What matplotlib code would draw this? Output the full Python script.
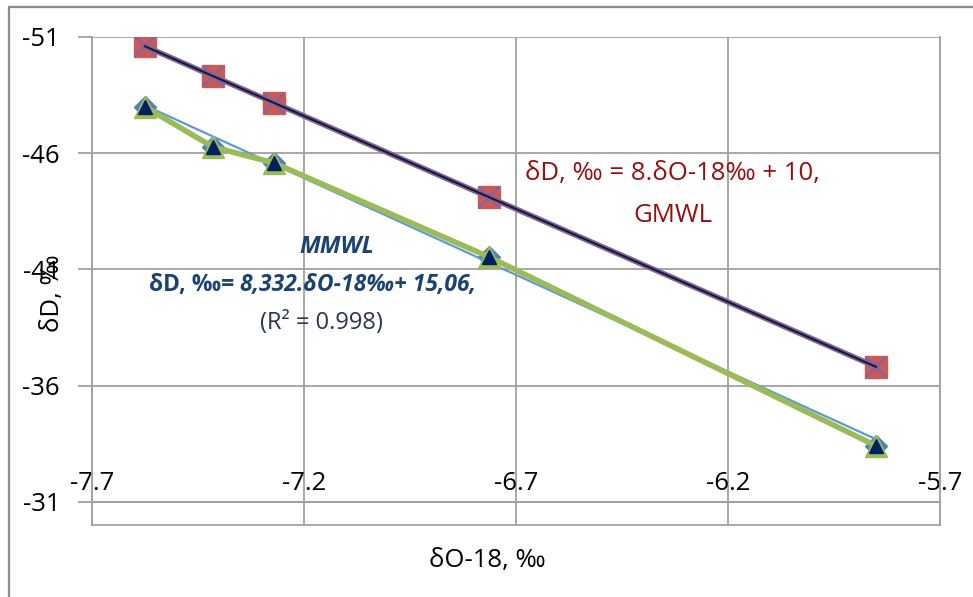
import numpy as np
import matplotlib.pyplot as plt
from matplotlib.patches import Rectangle

plt.rcParams['font.family'] = ['Open Sans', 'DejaVu Sans']

# delta O-18 of the samples
d18O = [-7.575, -7.415, -7.271, -6.764, -5.851]
# delta D on the global meteoric water line (squares)
dD_gmwl = [-50.60, -49.32, -48.17, -44.11, -36.81]
# measured delta D (triangles)
dD_meas = [-47.99, -46.27, -45.58, -41.54, -33.41]

# trend line equations printed on the chart
gmwl_slope, gmwl_intercept = 8.0, 10.0
mmwl_slope, mmwl_intercept = 8.332, 15.06

xticks = [-7.7, -7.2, -6.7, -6.2, -5.7]
yticks = [-51, -46, -41, -36, -31]

fig = plt.figure(figsize=(9.73, 5.97), dpi=100)
ax = fig.add_axes([92/973, 1-525/597, 848/973, 488/597])

gray = '#a0a0a0'
fs = 18.5

# outer chart border (only left and top visible)
fig.add_artist(Rectangle((9/973, -0.2), 1.2, 1.2 - 7/597, transform=fig.transFigure,
                         fill=False, edgecolor='#8c8c8c', lw=1.6))

xs = np.array([min(d18O), max(d18O)])

# MMWL series
ax.plot(d18O, dD_meas, 'D', ms=11, color='#4f81bd', zorder=3)
ax.plot(xs, mmwl_slope*xs + mmwl_intercept, color='#5b9bd5', lw=1.6, zorder=4)
ax.plot(d18O, dD_meas, color='#9bbb59', lw=4, zorder=5)
ax.plot(d18O, dD_meas, '^', ms=16, color='#9bbb59', zorder=6)
ax.plot(d18O, dD_meas, '^', ms=10, color='#002060', zorder=7)

# GMWL series
ax.plot(d18O, dD_gmwl, 's', ms=16, color='#c95a57', zorder=3)
ax.plot(d18O, dD_gmwl, color='#8064a2', lw=4, zorder=4)
ax.plot(d18O, dD_gmwl, 'x', ms=15, mew=1.5, color='#8064a2', zorder=5)
ax.plot(xs, gmwl_slope*xs + gmwl_intercept, color='#1a1a2a', lw=1.5, zorder=6)

ax.set_xlim(-7.7, -5.7)
ax.set_ylim(-30, -51)
ax.set_xticks(xticks)
ax.set_yticks(yticks)
ax.set_xticklabels(['%.1f' % v for v in xticks])
ax.set_yticklabels([str(v) for v in yticks])

# horizontal axis crosses at -31, labels above it
ax.xaxis.tick_top()
ax.spines['top'].set_position(('data', -31))
for s in ax.spines.values():
    s.set_color(gray)
    s.set_linewidth(1.3)
ax.tick_params(axis='x', length=0, pad=4, labelsize=fs)
ax.tick_params(axis='y', length=10, width=1.3, color=gray, pad=13, labelsize=fs)
ax.grid(True, color=gray, lw=1.3)
ax.set_axisbelow(True)

# equation labels
red = '#960f0f'
ax.text(-6.332, -45.11, 'δD, ‰ = 8.δO-18‰ + 10,', color=red, fontsize=fs,
        ha='center', va='center')
ax.text(-6.330, -43.34, 'GMWL', color=red, fontsize=fs, ha='center', va='center')

blue = '#1b4372'
ax.text(-7.122, -41.97, 'MMWL', color=blue, fontsize=17, style='italic',
        weight='bold', ha='center', va='center')
ax.text(-7.351, -40.33, 'δD, ‰= ', color=blue, fontsize=16.5, weight='bold',
        ha='right', va='center')
ax.text(-7.351, -40.33, '8,332.δO-18‰+ 15,06,', color=blue, fontsize=16.5,
        style='italic', weight='bold', ha='left', va='center')
ax.text(-7.160, -38.70, '(R² = 0.998)', color='#2a3550', fontsize=17,
        ha='center', va='center')

fig.text(52/973, 1-293/597, 'δD, ‰', rotation=90, fontsize=fs, ha='center', va='center')
fig.text(487/973, 1-560/597, 'δO-18, ‰', fontsize=fs, ha='center', va='center')

plt.savefig('out.png', dpi=100)
